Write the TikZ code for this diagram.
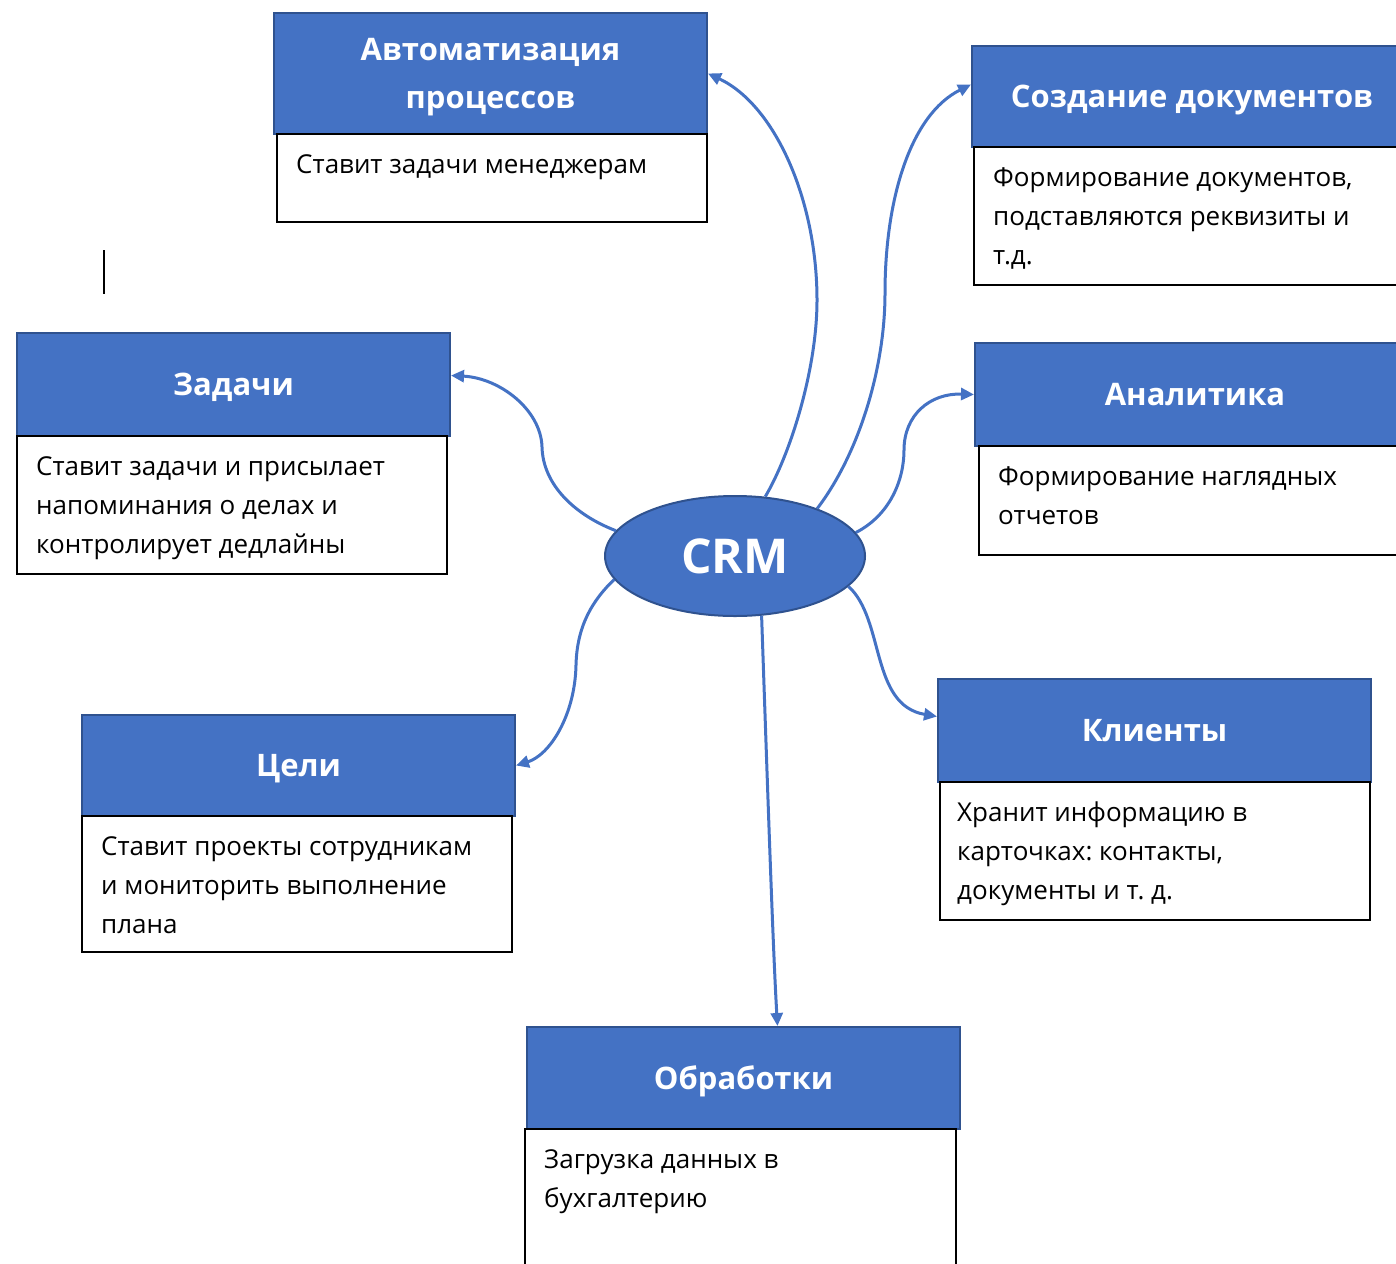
\documentclass[tikz,border=0pt]{standalone}
\usepackage{fontspec}
\setmainfont{Open Sans}
\frenchspacing
\usetikzlibrary{arrows.meta}
\usetikzlibrary{shapes.geometric}
\definecolor{hdrblue}{HTML}{4472C4}
\definecolor{hdredge}{HTML}{2F528F}
\newcommand{\hdrfont}{\fontsize{31}{48}\selectfont\bfseries}
\newcommand{\txtfont}{\fontsize{26}{39}\selectfont}

\begin{document}
\begin{tikzpicture}[x=1pt,y=-1pt,
    head/.style = {draw=hdredge, line width=2pt, fill=hdrblue, text=white, font=\hdrfont, align=center, anchor=north west, inner sep=0pt, text height=22pt, text depth=0pt},
    frame/.style = {draw=black, line width=1.5pt, fill=white, anchor=north west, inner sep=0pt},
    txt/.style = {font=\txtfont, align=left, anchor=north west, inner sep=0pt},
    crm/.style = {ellipse, draw=hdredge, line width=2pt, fill=hdrblue, text=white, minimum width=260pt, minimum height=120pt, inner sep=0pt, font=\fontsize{48}{58}\selectfont\bfseries},
    link/.style = {draw=hdrblue, line width=3pt, -{Triangle[length=13pt,width=12pt]}}]
    \useasboundingbox (0,0) rectangle (1396,1263);
    \clip (0,0) rectangle (1396,1263);

    % headers
    \node[head, minimum width=433pt, minimum height=121pt, text height=70pt] (Avt) at (273,12) {Автоматизация\\процессов};
    \node[head, minimum width=440pt, minimum height=101pt] (Doc) at (971,45) {Создание документов};
    \node[head, minimum width=433pt, minimum height=103pt] (Zad) at (16,332) {Задачи};
    \node[head, minimum width=440pt, minimum height=103pt] (Ana) at (974,342) {Аналитика};
    \node[head, minimum width=433pt, minimum height=101pt] (Cel) at (81,714) {Цели};
    \node[head, minimum width=433pt, minimum height=103pt] (Kli) at (937,678) {Клиенты};
    \node[head, minimum width=433pt, minimum height=102pt] (Obr) at (526,1026) {Обработки};

    % text boxes
    \node[frame, minimum width=430pt, minimum height=88pt] (AvtT) at (276,133) {};
    \node[frame, minimum width=440pt, minimum height=138pt] (DocT) at (973,146) {};
    \node[frame, minimum width=430pt, minimum height=138pt] (ZadT) at (16,435) {};
    \node[frame, minimum width=440pt, minimum height=109pt] (AnaT) at (978,445) {};
    \node[frame, minimum width=430pt, minimum height=136pt] (CelT) at (81,815) {};
    \node[frame, minimum width=430pt, minimum height=138pt] (KliT) at (939,781) {};
    \node[frame, minimum width=431pt, minimum height=150pt] (ObrT) at (524,1128) {};

    \node[txt] (AvtL) at ([xshift=20pt,yshift=-21pt]AvtT.north west) {Ставит задачи менеджерам};
    \node[txt] (DocL) at ([xshift=20pt,yshift=-21pt]DocT.north west) {Формирование документов,\\подставляются реквизиты и\\т.д.};
    \node[txt] (ZadL) at ([xshift=20pt,yshift=-21pt]ZadT.north west) {Ставит задачи и присылает\\напоминания о делах и\\контролирует дедлайны};
    \node[txt] (AnaL) at ([xshift=20pt,yshift=-21pt]AnaT.north west) {Формирование наглядных\\отчетов};
    \node[txt] (CelL) at ([xshift=20pt,yshift=-21pt]CelT.north west) {Ставит проекты сотрудникам\\и мониторить выполнение\\плана};
    \node[txt] (KliL) at ([xshift=18pt,yshift=-21pt]KliT.north west) {Хранит информацию в\\карточках: контакты,\\документы и т. д.};
    \node[txt] (ObrL) at ([xshift=20pt,yshift=-21pt]ObrT.north west) {Загрузка данных в\\бухгалтерию};

    \node[crm] (CRM) at (735,556) {CRM};

    % connectors
    \draw[link] (CRM.63) .. controls (790,455) and (817,370) .. (817,300)
        .. controls (817,200) and (775,105) .. (Avt.east);
    \draw[link] (CRM.30) .. controls (858,455) and (885,370) .. (885,293)
        .. controls (885,200) and (910,115) .. ([yshift=12pt]Doc.west);
    \draw[link] (CRM.11) .. controls (890,515) and (904,480) .. (904,450)
        .. controls (904,415) and (930,393) .. (Ana.west);
    \draw[link] (CRM.168) .. controls (575,515) and (543,485) .. (542,447)
        .. controls (541,410) and (500,378) .. ([yshift=9pt]Zad.east);
    \draw[link] (CRM.191) .. controls (593,600) and (577,625) .. (576,665)
        .. controls (575,715) and (550,755) .. (Cel.east);
    \draw[link] (CRM.345) .. controls (885,620) and (870,705) .. ([yshift=14pt]Kli.west);
    \draw[link] (CRM.294) .. controls (768,800) and (773,950) .. ([xshift=34pt]Obr.north);

    \draw[line width=1.5pt] (104,250) -- (104,294);
\end{tikzpicture}
\end{document}
